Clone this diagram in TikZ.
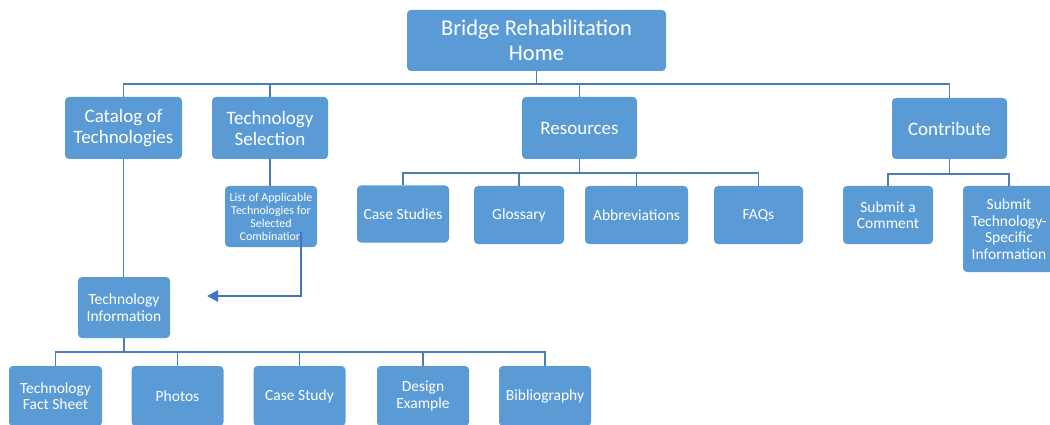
\documentclass[tikz,border=0pt]{standalone}
\usepackage{fontspec}
\setmainfont{Carlito}
\usetikzlibrary{arrows.meta,calc}
\definecolor{boxfill}{HTML}{5B9BD5}
\definecolor{linecol}{HTML}{4A7EBB}
\definecolor{arrcol}{HTML}{4472C4}
\tikzset{
  box/.style={fill=boxfill, draw=none, rounded corners=4pt, text=white, align=center, inner sep=1pt},
  lvA/.style={box, font=\fontsize{22.5}{25}\selectfont},
  lvB/.style={box, font=\fontsize{19}{21}\selectfont},
  lvC/.style={box, font=\fontsize{15.5}{16.5}\selectfont},
  lvD/.style={box, font=\fontsize{12}{13}\selectfont},
  conn/.style={draw=linecol, line width=1.4pt},
  bigarrow/.style={draw=arrcol, line width=2.6pt, -{Triangle[length=11pt,width=11pt]}}
}
\begin{document}
\begin{tikzpicture}[x=1pt,y=-1pt]
\useasboundingbox (0,0) rectangle (1050,425);
\fill[white] (0,0) rectangle (1050,425);

% top
\node[lvA, minimum width=259, minimum height=61] (home) at (536.5,40.5) {Bridge Rehabilitation\\Home};

% level 1
\node[lvB, minimum width=117, minimum height=62] (cat) at (123.5,128) {Catalog of\\Technologies};
\node[lvB, minimum width=116, minimum height=62] (sel) at (270,128) {Technology\\Selection};
\node[lvB, minimum width=115, minimum height=62] (res) at (579.5,128) {Resources};
\node[lvB, minimum width=115, minimum height=61] (con) at (949.5,128.5) {Contribute};

% level 2
\node[lvD, minimum width=92, minimum height=61] (list) at (271,216.5) {List of Applicable\\Technologies for\\Selected\\Combination};
\node[lvC, minimum width=92, minimum height=57] (cs) at (403,214) {Case Studies};
\node[lvC, minimum width=90, minimum height=58] (glo) at (519,215) {Glossary};
\node[lvC, minimum width=103, minimum height=58] (abb) at (636.5,215) {Abbreviations};
\node[lvC, minimum width=89, minimum height=58] (faq) at (758.5,215) {FAQs};
\node[lvC, minimum width=90, minimum height=58] (com) at (888,215) {Submit a\\Comment};
\node[lvC, minimum width=92, minimum height=86] (sub) at (1009,229) {Submit\\Technology-\\Specific\\Information};

% technology information
\node[lvC, minimum width=92, minimum height=61] (info) at (124,307.5) {Technology\\Information};

% bottom
\node[lvC, minimum width=93, minimum height=60] (tfs) at (55.5,396) {Technology\\Fact Sheet};
\node[lvC, minimum width=92, minimum height=60] (pho) at (177.5,396) {Photos};
\node[lvC, minimum width=92, minimum height=60] (csy) at (299.5,396) {Case Study};
\node[lvC, minimum width=92, minimum height=60] (des) at (423,396) {Design\\Example};
\node[lvC, minimum width=92, minimum height=60] (bib) at (545,396) {Bibliography};

% buses
\coordinate (busA) at (536.5,84);
\coordinate (busR) at (579.5,173);
\coordinate (busC) at (949.5,174);
\coordinate (busI) at (124,352);

\draw[conn] (home.south) -- (busA);
\draw[conn] (busA) -| (cat.north);
\draw[conn] (busA) -| (sel.north);
\draw[conn] (busA) -| (res.north);
\draw[conn] (busA) -| (con.north);

\draw[conn] (res.south) -- (busR);
\draw[conn] (busR) -| (cs.north);
\draw[conn] (busR) -| (glo.north);
\draw[conn] (busR) -| (abb.north);
\draw[conn] (busR) -| (faq.north);

\draw[conn] (con.south) -- (busC);
\draw[conn] (busC) -| (com.north);
\draw[conn] (busC) -| (sub.north);

\draw[conn] (cat.south) -- (cat.south |- info.north);
\draw[conn] (sel.south) -- (sel.south |- list.north);

\draw[conn] (info.south) -- (busI);
\draw[conn] (busI) -| (tfs.north);
\draw[conn] (busI) -| (pho.north);
\draw[conn] (busI) -| (csy.north);
\draw[conn] (busI) -| (des.north);
\draw[conn] (busI) -| (bib.north);

% arrow
\coordinate (arrS) at (301,232);
\coordinate (arrE) at (207,296);
\draw[bigarrow] (arrS) |- (arrE);
\end{tikzpicture}
\end{document}
